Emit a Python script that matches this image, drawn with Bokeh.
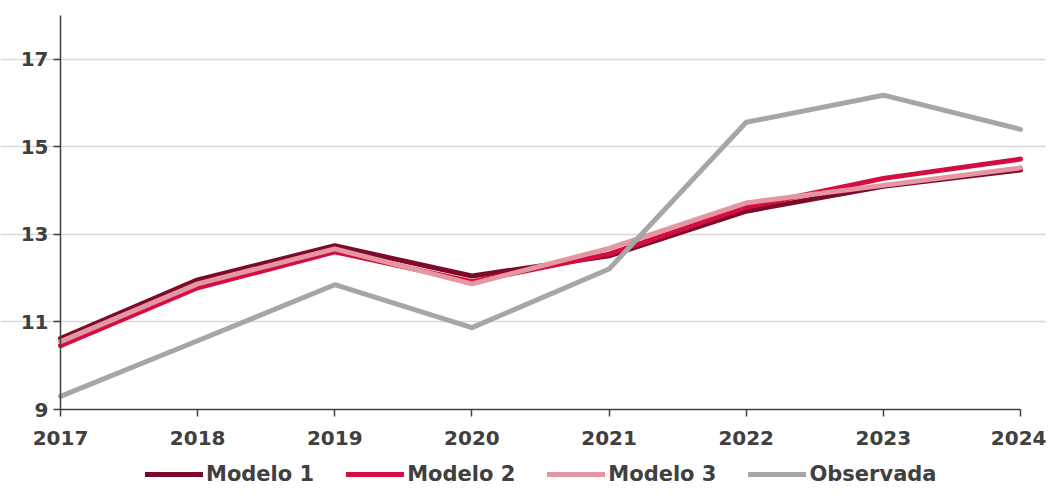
from bokeh.plotting import figure
from bokeh.models import Range1d, FixedTicker, Legend, LegendItem
from bokeh.embed import file_html
from bokeh.resources import INLINE

years = [2017, 2018, 2019, 2020, 2021, 2022, 2023, 2024]
modelo1 = [10.62, 11.96, 12.74, 12.05, 12.51, 13.53, 14.10, 14.47]
modelo2 = [10.46, 11.78, 12.60, 11.92, 12.55, 13.62, 14.28, 14.72]
modelo3 = [10.55, 11.87, 12.67, 11.87, 12.68, 13.72, 14.12, 14.52]
observada = [9.30, 10.57, 11.85, 10.87, 12.21, 15.56, 16.18, 15.40]
y_ticks = [9, 11, 13, 15, 17]
grid_ticks = [11, 13, 15, 17]

FONT = "DejaVu Sans"
TXT = "#404040"

# The frame covers the whole canvas; axes are pinned at (2017, 9) with bounds,
# so tick labels and the legend sit inside the frame area.
W, H = 1046, 488
X0, X1 = 60, 1020      # pixel of 2017 / 2024
Y9, Y18 = 409, 15      # pixel (from top) of 9 / 18
ppx = (X1 - X0) / 7.0
ppy = (Y9 - Y18) / 9.0
x_range = Range1d(2017 - X0 / ppx, 2024 + (W - X1) / ppx)
y_range = Range1d(9 - (H - Y9) / ppy, 18 + Y18 / ppy)

p = figure(width=W, height=H, output_backend="svg", toolbar_location=None,
           x_range=x_range, y_range=y_range, min_border=0)
p.outline_line_color = None
p.background_fill_color = "white"
p.border_fill_color = "white"

p.xgrid.grid_line_color = None
p.ygrid.grid_line_color = "#d9d9d9"
p.ygrid.grid_line_width = 1.5
p.ygrid.ticker = FixedTicker(ticks=grid_ticks)
p.ygrid.bounds = (2017, 2024)

for ax in (p.xaxis[0], p.yaxis[0]):
    ax.axis_line_color = TXT
    ax.axis_line_width = 1.5
    ax.major_tick_line_color = TXT
    ax.major_tick_line_width = 1.5
    ax.major_tick_in = 0
    ax.major_tick_out = 7
    ax.minor_tick_line_color = None
    ax.major_label_text_font = FONT
    ax.major_label_text_font_style = "bold"
    ax.major_label_text_font_size = "20px"
    ax.major_label_text_color = TXT

p.xaxis.ticker = FixedTicker(ticks=years)
p.yaxis.ticker = FixedTicker(ticks=y_ticks)
p.xaxis.fixed_location = 9
p.yaxis.fixed_location = 2017
p.xaxis.bounds = (2017, 2024)
p.yaxis.bounds = (9, 18)
p.xaxis.major_label_standoff = 14
p.yaxis.major_label_standoff = 5

colors = ["#7d0a2b", "#d50c3f", "#e597a1", "#a6a6a6"]
names = ["Modelo 1", "Modelo 2", "Modelo 3", "Observada"]
series = [modelo1, modelo2, modelo3, observada]
items = []
for name, col, vals in zip(names, colors, series):
    r = p.line(years, vals, line_color=col, line_width=5, line_cap="round", line_join="round")
    items.append(LegendItem(label=name, renderers=[r]))

legend = Legend(items=items, orientation="horizontal", location=(145, 2),
                margin=0, padding=0, spacing=32, label_standoff=3, glyph_width=58, glyph_height=22,
                label_height=22, label_text_font=FONT, label_text_font_style="bold",
                label_text_font_size="21px", label_text_color=TXT,
                border_line_color=None, background_fill_alpha=0)
p.add_layout(legend, "center")

open("out.html", "w").write(file_html(p, INLINE))
